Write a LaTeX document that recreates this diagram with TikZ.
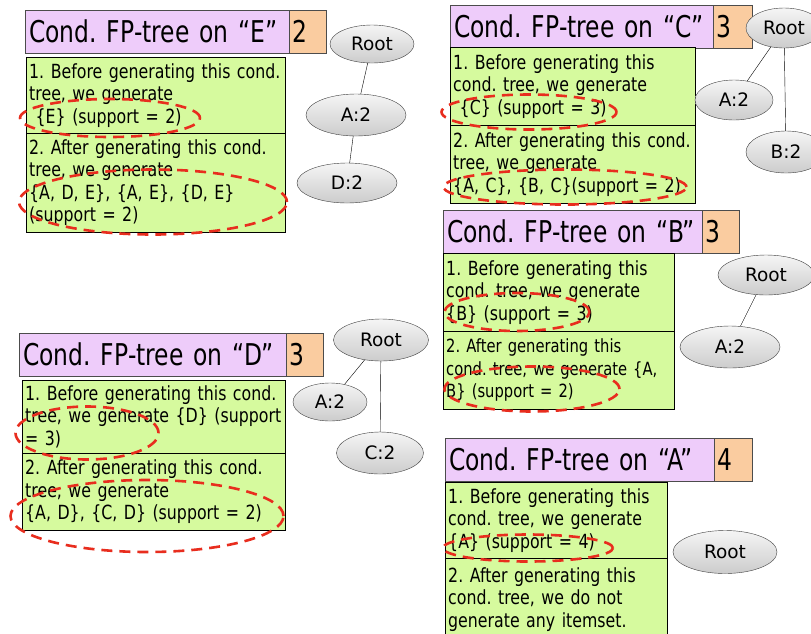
\documentclass[tikz,border=0pt]{standalone}
\usepackage{fontspec}
\setmainfont[FakeStretch=0.78]{DejaVu Sans}
\newfontfamily\stepfont[FakeStretch=0.81]{DejaVu Sans}
\newfontfamily\treefont{DejaVu Sans}
\usetikzlibrary{shapes,positioning}
\definecolor{fppink}{RGB}{238,204,250}
\definecolor{fporange}{RGB}{250,204,160}
\definecolor{fpgreen}{RGB}{214,250,158}
\definecolor{fpred}{RGB}{232,45,30}

\begin{document}
\frenchspacing
\begin{tikzpicture}[x=1pt, y=-1pt,
    titlebox/.style={rectangle, draw=black!70, fill=fppink, anchor=north west, inner xsep=4pt,
        minimum height=43pt, align=left, font=\fontsize{30}{34}\selectfont},
    countbox/.style={rectangle, draw=black!70, fill=fporange, anchor=north west, inner xsep=3pt,
        minimum height=43pt, align=left, font=\fontsize{30}{34}\selectfont},
    stepbox/.style={rectangle, draw=black, fill=fpgreen, anchor=north west, inner xsep=3pt, inner ysep=2pt,
        align=left, font=\stepfont\fontsize{19.5}{22.5}\selectfont},
    treenode/.style={ellipse, draw=black!75, top color=gray!8, bottom color=gray!40, inner sep=0pt,
        font=\treefont\fontsize{18.5}{20}\selectfont},
    ring/.style={ellipse, draw=fpred, line width=2.6pt, dash pattern=on 11pt off 7pt, inner sep=0pt},
]
    \useasboundingbox (0,0) rectangle (811,633);
    \clip (0,0) rectangle (811,633);
    \fill[white] (0,0) rectangle (811,633);

    % Cond. tree on E
    \node[titlebox, minimum width=264pt, text width=256pt] (titleE) at (25,10) {Cond. FP-tree on “E”};
    \node[countbox, minimum width=37pt, text width=31pt] (countE) at (289,10) {2};
    \node[stepbox, minimum width=259pt, minimum height=76pt, text width=253pt] (beforeE) at (26,57) {
        1. Before generating this cond.\\
        tree, we generate\\
        \ \{E\} (support = 2)
    };
    \node[stepbox, minimum width=259pt, minimum height=99pt, text width=253pt] (afterE) at (26,133) {
        2. After generating this cond.\\
        tree, we generate\\
        \{A, D, E\}, \{A, E\}, \{D, E\}\\
        (support = 2)
    };
    \node[ring, minimum width=180pt, minimum height=38pt] (ringE1) at (110,118) {};
    \node[ring, minimum width=268pt, minimum height=65pt] (ringE2) at (153,202) {};
    \node[treenode, minimum width=84pt, minimum height=38pt] (rootE) at (372,44) {Root};
    \node[treenode, minimum width=100pt, minimum height=42pt] (aE) at (356,115) {A:2};
    \node[treenode, minimum width=100pt, minimum height=40pt] (dE) at (347,183) {D:2};
    \draw (rootE) -- (aE);
    \draw (aE) -- (dE);

    % Cond. tree on C
    \node[titlebox, minimum width=263pt, text width=255pt] (titleC) at (450,5) {Cond. FP-tree on “C”};
    \node[countbox, minimum width=39pt, text width=33pt] (countC) at (713,5) {3};
    \node[stepbox, minimum width=245pt, minimum height=78pt, text width=239pt] (beforeC) at (450,47) {
        1. Before generating this\\
        cond. tree, we generate\\
        \ \{C\} (support = 3)
    };
    \node[stepbox, minimum width=245pt, minimum height=78pt, text width=239pt] (afterC) at (450,125) {
        2. After generating this cond.\\
        tree, we generate\\
        \{A, C\}, \{B, C\}(support = 2)
    };
    \node[ring, minimum width=175pt, minimum height=35pt] (ringC1) at (529,112) {};
    \node[ring, minimum width=243pt, minimum height=35pt] (ringC2) at (565,187) {};
    \node[treenode, minimum width=76pt, minimum height=40pt] (rootC) at (784,28) {Root};
    \node[treenode, minimum width=78pt, minimum height=40pt] (aC) at (734,100) {A:2};
    \node[treenode, minimum width=80pt, minimum height=42pt] (bC) at (786,152) {B:2};
    \draw (rootC) -- (aC);
    \draw (rootC) -- (bC);

    % Cond. tree on B
    \node[titlebox, minimum width=259pt, text width=251pt] (titleB) at (443,210) {Cond. FP-tree on “B”};
    \node[countbox, minimum width=37pt, text width=31pt] (countB) at (702,210) {3};
    \node[stepbox, minimum width=231pt, minimum height=78pt, text width=225pt] (beforeB) at (443,253) {
        1. Before generating this\\
        cond. tree, we generate\\
        \{B\} (support = 3)
    };
    \node[stepbox, minimum width=231pt, minimum height=78pt, text width=225pt,
        font=\stepfont\fontsize{18.2}{22.5}\selectfont] (afterB) at (443,331) {
        2. After generating this\\
        cond. tree, we generate \{A,\\
        B\} (support = 2)
    };
    \node[ring, minimum width=145pt, minimum height=38pt] (ringB1) at (517,312) {};
    \node[ring, minimum width=175pt, minimum height=45pt] (ringB2) at (532,389) {};
    \node[treenode, minimum width=96pt, minimum height=40pt] (rootB) at (766,275) {Root};
    \node[treenode, minimum width=100pt, minimum height=42pt] (aB) at (730,347) {A:2};
    \draw (rootB) -- (aB);

    % Cond. tree on D
    \node[titlebox, minimum width=267pt, text width=259pt] (titleD) at (19,333) {Cond. FP-tree on “D”};
    \node[countbox, minimum width=37pt, text width=31pt] (countD) at (286,333) {3};
    \node[stepbox, minimum width=263pt, minimum height=73pt, text width=257pt] (beforeD) at (22,380) {
        1. Before generating this cond.\\
        tree, we generate \{D\} (support\\
        = 3)
    };
    \node[stepbox, minimum width=263pt, minimum height=77pt, text width=257pt] (afterD) at (22,453) {
        2. After generating this cond.\\
        tree, we generate\\
        \{A, D\}, \{C, D\} (support = 2)
    };
    \node[ring, minimum width=143pt, minimum height=53pt] (ringD1) at (87,433) {};
    \node[ring, minimum width=273pt, minimum height=72pt] (ringD2) at (147,516) {};
    \node[treenode, minimum width=95pt, minimum height=42pt] (rootD) at (381,340) {Root};
    \node[treenode, minimum width=74pt, minimum height=38pt] (aD) at (330,402) {A:2};
    \node[treenode, minimum width=87pt, minimum height=42pt] (cD) at (380,453) {C:2};
    \draw (rootD) -- (aD);
    \draw (rootD) -- (cD);

    % Cond. tree on A
    \node[titlebox, minimum width=269pt, text width=261pt] (titleA) at (445,438) {Cond. FP-tree on “A”};
    \node[countbox, minimum width=38pt, text width=32pt] (countA) at (714,438) {4};
    \node[stepbox, minimum width=222pt, minimum height=76pt, text width=216pt] (beforeA) at (445,482) {
        1. Before generating this\\
        cond. tree, we generate\\
        \{A\} (support = 4)
    };
    \node[stepbox, minimum width=222pt, minimum height=82pt, text width=216pt] (afterA) at (445,558) {
        2. After generating this\\
        cond. tree, we do not\\
        generate any itemset.
    };
    \node[ring, minimum width=170pt, minimum height=27pt] (ringA1) at (528,548) {};
    \node[treenode, minimum width=104pt, minimum height=43pt] (rootA) at (725,552) {Root};
\end{tikzpicture}
\end{document}
